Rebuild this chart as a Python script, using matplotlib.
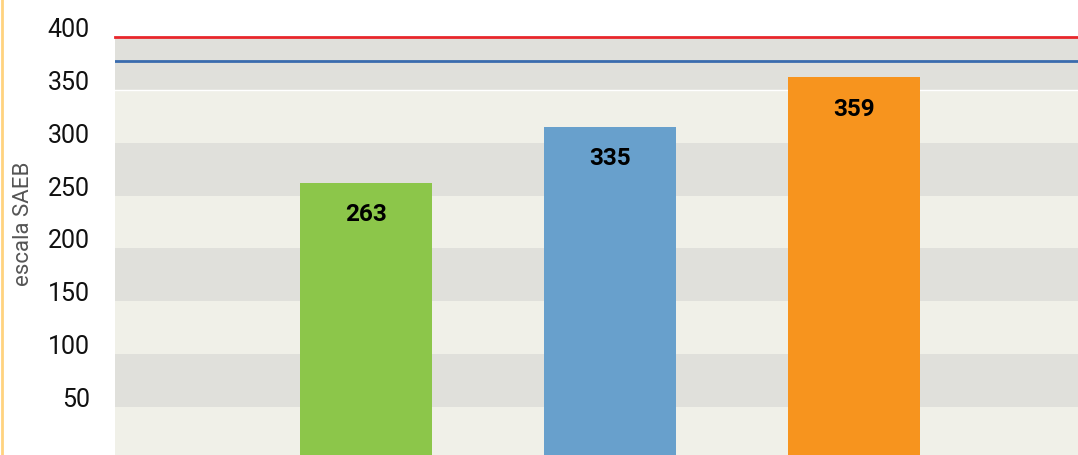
import matplotlib
matplotlib.use('Agg')
import matplotlib.pyplot as plt
import matplotlib.transforms as mtransforms
from matplotlib.lines import Line2D

plt.rcParams['font.family'] = ['Roboto', 'DejaVu Sans']

# data
categories = ['A', 'B', 'C']
heights = [262, 315, 362]
value_labels = ['263', '335', '359']
bar_colors = ['#8CC64A', '#68A0CC', '#F7941E']
yticks = [50, 100, 150, 200, 250, 300, 350, 400]
red_ref = 400
blue_ref = 377

fig = plt.figure(figsize=(10.78, 4.55), dpi=100)
ax = fig.add_axes([115 / 1078, 0, 1 - 115 / 1078, 1 - 37 / 455])

ax.set_ylim(4.5, 400)
ax.set_xlim(-1.03, 2.92)

# alternating background bands
ax.set_facecolor('#F0F0E8')
for lo in range(50, 400, 100):
    ax.axhspan(lo, lo + 50, color='#E0E0DB', lw=0, zorder=0)
ax.axhline(350, color='white', lw=1, zorder=1)

x = range(len(categories))
ax.bar(x, heights, width=0.542, color=bar_colors, zorder=2)
for xi, h, lab in zip(x, heights, value_labels):
    ax.annotate(lab, (xi, h), xytext=(0, -32), textcoords='offset pixels',
                ha='center', va='center', fontsize=17.5, fontweight='bold', zorder=3)

ax.axhline(blue_ref, color='#3A6CAE', lw=2, zorder=2)
ax.axhline(red_ref, color='#E8262B', lw=2, zorder=2, clip_on=False)

ax.set_yticks(yticks)
ax.set_yticklabels([str(t) for t in yticks], fontsize=18, color='#111111')
ax.tick_params(axis='y', length=0, pad=18)
ax.set_xticks([])
offset = mtransforms.ScaledTranslation(0, 9.5 / 100, fig.dpi_scale_trans)
for lab in ax.get_yticklabels():
    lab.set_transform(lab.get_transform() + offset)
for s in ax.spines.values():
    s.set_visible(False)

fig.text(24 / 1078, 1 - 224 / 455, 'escala SAEB', rotation=90, ha='center', va='center',
         fontsize=16, color='#555555')
fig.add_artist(Line2D([1.5 / 1078, 1.5 / 1078], [0, 1], color='#FFD37F', lw=2))

fig.savefig('out.png', dpi=100)
